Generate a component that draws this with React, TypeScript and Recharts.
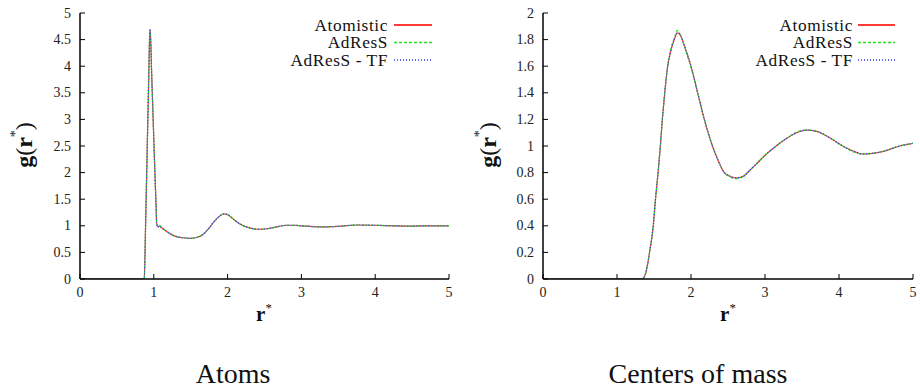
import React from 'react';
import { LineChart, Line, XAxis, YAxis } from 'recharts';

const seriesNames = ['Atomistic', 'AdResS', 'AdResS - TF'];
const seriesKeys = ['atomistic', 'adress', 'adressTF'];
const seriesColors = ['#ff3a3a', '#22e022', '#3434ff'];
const seriesDash = ['', '3 2', '1 2'];

const xTicks = [0, 1, 2, 3, 4, 5];
const atomsYTicks = [0, 0.5, 1, 1.5, 2, 2.5, 3, 3.5, 4, 4.5, 5];
const comYTicks = [0, 0.2, 0.4, 0.6, 0.8, 1, 1.2, 1.4, 1.6, 1.8, 2];

// Atoms panel
const atomsR = [0, 0.5, 0.86, 0.87, 0.89, 0.91, 0.93, 0.945, 0.95, 0.96, 0.97, 0.99, 1.01, 1.03, 1.04, 1.06, 1.08, 1.1, 1.15, 1.2, 1.25, 1.3, 1.4, 1.5, 1.6, 1.65, 1.7, 1.75, 1.8, 1.85, 1.9, 1.95, 2.0, 2.05, 2.1, 2.2, 2.3, 2.4, 2.5, 2.6, 2.7, 2.8, 2.9, 3.0, 3.25, 3.5, 3.75, 4.0, 4.25, 4.5, 4.75, 5.0];
const atomsAtomistic = [0, 0, 0, 0, 1.1, 2.4, 3.7, 4.6, 4.68, 4.4, 3.9, 3.05, 2.2, 1.4, 1.02, 0.98, 1.0, 0.97, 0.92, 0.87, 0.83, 0.8, 0.775, 0.765, 0.79, 0.82, 0.88, 0.96, 1.05, 1.13, 1.19, 1.225, 1.21, 1.16, 1.1, 1.01, 0.96, 0.935, 0.94, 0.96, 0.99, 1.01, 1.01, 1.0, 0.98, 0.99, 1.015, 1.01, 1.0, 0.995, 1.0, 1.0];
const atomsAdress = [0, 0, 0, 0, 1.1, 2.4, 3.7, 4.6, 4.66, 4.4, 3.9, 3.05, 2.2, 1.4, 1.02, 0.99, 1.01, 0.97, 0.92, 0.87, 0.83, 0.8, 0.775, 0.765, 0.79, 0.82, 0.88, 0.96, 1.05, 1.13, 1.19, 1.225, 1.21, 1.16, 1.1, 1.01, 0.96, 0.935, 0.94, 0.96, 0.99, 1.01, 1.01, 1.0, 0.98, 0.99, 1.015, 1.01, 1.0, 0.995, 1.0, 1.0];
const atomsAdressTF = [0, 0, 0, 0, 1.1, 2.4, 3.7, 4.62, 4.7, 4.4, 3.9, 3.05, 2.2, 1.4, 1.02, 0.98, 1.0, 0.97, 0.92, 0.87, 0.83, 0.8, 0.775, 0.765, 0.79, 0.82, 0.88, 0.96, 1.05, 1.13, 1.19, 1.225, 1.21, 1.16, 1.1, 1.01, 0.96, 0.935, 0.94, 0.96, 0.99, 1.01, 1.01, 1.0, 0.98, 0.99, 1.015, 1.01, 1.0, 0.995, 1.0, 1.0];

// Centers of mass panel
const comR = [0, 1.0, 1.34, 1.38, 1.41, 1.44, 1.49, 1.52, 1.555, 1.586, 1.613, 1.645, 1.685, 1.72, 1.78, 1.815, 1.86, 1.9, 1.95, 2.0, 2.09, 2.18, 2.29, 2.36, 2.45, 2.52, 2.61, 2.7, 2.8, 2.91, 3.0, 3.15, 3.3, 3.45, 3.56, 3.7, 3.85, 4.05, 4.2, 4.32, 4.45, 4.6, 4.82, 5.0];
const comAtomistic = [0, 0, 0, 0.03, 0.1, 0.2, 0.4, 0.6, 0.8, 1.0, 1.2, 1.4, 1.6, 1.7, 1.81, 1.85, 1.83, 1.77, 1.69, 1.6, 1.4, 1.2, 1.0, 0.9, 0.8, 0.775, 0.76, 0.77, 0.82, 0.88, 0.93, 1.0, 1.06, 1.105, 1.12, 1.11, 1.07, 1.0, 0.96, 0.94, 0.945, 0.96, 1.0, 1.02];
const comAdress = [0, 0, 0, 0.03, 0.1, 0.2, 0.4, 0.6, 0.8, 1.0, 1.2, 1.4, 1.6, 1.71, 1.82, 1.87, 1.83, 1.77, 1.68, 1.59, 1.4, 1.2, 1.0, 0.9, 0.8, 0.77, 0.755, 0.77, 0.82, 0.88, 0.93, 1.0, 1.06, 1.11, 1.12, 1.11, 1.07, 1.0, 0.955, 0.94, 0.945, 0.96, 1.0, 1.02];
const comAdressTF = [0, 0, 0, 0.03, 0.1, 0.2, 0.4, 0.6, 0.8, 1.0, 1.2, 1.4, 1.6, 1.7, 1.81, 1.85, 1.83, 1.77, 1.69, 1.6, 1.4, 1.2, 1.0, 0.9, 0.8, 0.775, 0.76, 0.77, 0.82, 0.88, 0.93, 1.0, 1.06, 1.105, 1.12, 1.11, 1.07, 1.0, 0.96, 0.94, 0.945, 0.96, 1.0, 1.02];

const buildRows = (r: number[], a: number[], b: number[], c: number[]) =>
  r.map((x, i) => ({ r: x, atomistic: a[i], adress: b[i], adressTF: c[i] }));

const atomsData = buildRows(atomsR, atomsAtomistic, atomsAdress, atomsAdressTF);
const comData = buildRows(comR, comAtomistic, comAdress, comAdressTF);

const FONT = 'Liberation Serif';
const TICK_LEN = 5;
const TICK_FS = 14;

const BottomTick = (props: any) => {
  const { x, y, payload } = props;
  return (
    <g>
      <line x1={x} x2={x} y1={y} y2={y - TICK_LEN} stroke="#000" strokeWidth={1} />
      <text x={x} y={y + 17.5} textAnchor="middle" fontFamily={FONT} fontSize={TICK_FS} fill="#222">
        {String(payload.value)}
      </text>
    </g>
  );
};
const TopTick = (props: any) => {
  const { x, y } = props;
  return <line x1={x} x2={x} y1={y} y2={y + TICK_LEN} stroke="#000" strokeWidth={1} />;
};
const LeftTick = (props: any) => {
  const { x, y, payload } = props;
  return (
    <g>
      <line x1={x} x2={x + TICK_LEN} y1={y} y2={y} stroke="#000" strokeWidth={1} />
      <text x={x - 9} y={y + 4.5} textAnchor="end" fontFamily={FONT} fontSize={TICK_FS} fill="#222">
        {String(payload.value)}
      </text>
    </g>
  );
};
const RightTick = (props: any) => {
  const { x, y } = props;
  return <line x1={x} x2={x - TICK_LEN} y1={y} y2={y} stroke="#000" strokeWidth={1} />;
};

type PanelProps = {
  left: number;
  data: any[];
  yTicks: number[];
  yMax: number;
  yAxisWidth: number;
  rightMargin: number;
};

const Panel = ({ left, data, yTicks, yMax, yAxisWidth, rightMargin }: PanelProps) => (
  <div style={{ position: 'absolute', left, top: 0 }}>
    <LineChart width={460} height={300} data={data} margin={{ top: 13, right: rightMargin, bottom: 0, left: 0 }}>
      <XAxis
        dataKey="r"
        type="number"
        domain={[0, 5]}
        ticks={xTicks}
        allowDataOverflow
        height={21}
        tickSize={0}
        tickMargin={0}
        tickLine={false}
        axisLine={{ stroke: '#000', strokeWidth: 1.5 }}
        tick={<BottomTick />}
        interval={0}
      />
      <XAxis
        xAxisId="top"
        orientation="top"
        dataKey="r"
        type="number"
        domain={[0, 5]}
        ticks={xTicks}
        allowDataOverflow
        height={0}
        tickSize={0}
        tickMargin={0}
        tickLine={false}
        axisLine={{ stroke: '#000', strokeWidth: 1.5 }}
        tick={<TopTick />}
        interval={0}
      />
      <YAxis
        type="number"
        domain={[0, yMax]}
        ticks={yTicks}
        allowDataOverflow
        width={yAxisWidth}
        tickSize={0}
        tickMargin={0}
        tickLine={false}
        axisLine={{ stroke: '#000', strokeWidth: 1.5 }}
        tick={<LeftTick />}
        interval={0}
      />
      <YAxis
        yAxisId="right"
        orientation="right"
        type="number"
        domain={[0, yMax]}
        ticks={yTicks}
        allowDataOverflow
        width={0}
        tickSize={0}
        tickMargin={0}
        tickLine={false}
        axisLine={{ stroke: '#000', strokeWidth: 1.5 }}
        tick={<RightTick />}
        interval={0}
      />
      {seriesKeys.map((k, i) => (
        <Line
          key={k}
          dataKey={k}
          name={seriesNames[i]}
          type="monotone"
          stroke={seriesColors[i]}
          strokeWidth={1.2}
          strokeDasharray={seriesDash[i] || undefined}
          dot={false}
          isAnimationActive={false}
        />
      ))}
    </LineChart>
  </div>
);

const LegendBlock = ({ textRight, lineStart, lineEnd }: { textRight: number; lineStart: number; lineEnd: number }) => (
  <g>
    {seriesNames.map((n, i) => {
      const cy = 25 + i * 17.5;
      return (
        <g key={n}>
          <text
            x={textRight}
            y={cy + 5.5}
            textAnchor="end"
            fontFamily={FONT}
            fontSize={17.3}
            letterSpacing={0.6}
            fill="#111"
          >
            {n}
          </text>
          <line
            x1={lineStart}
            x2={lineEnd}
            y1={cy}
            y2={cy}
            stroke={seriesColors[i]}
            strokeWidth={i === 0 ? 2 : 1.5}
            strokeDasharray={seriesDash[i] || undefined}
          />
        </g>
      );
    })}
  </g>
);

const YLabel = ({ cx, cy }: { cx: number; cy: number }) => (
  <text
    x={cx}
    y={cy}
    transform={`rotate(-90 ${cx} ${cy})`}
    textAnchor="middle"
    dominantBaseline="central"
    fontFamily={FONT}
    fontSize={24}
    fill="#111"
  >
    <tspan fontWeight="bold">g</tspan>
    <tspan>(</tspan>
    <tspan fontWeight="bold">r</tspan>
    <tspan fontSize={14} dy={-9}>*</tspan>
    <tspan dy={9}>)</tspan>
  </text>
);

const XLabel = ({ cx }: { cx: number }) => (
  <text x={cx} y={321} textAnchor="middle" fontFamily={FONT} fontSize={21} fill="#111">
    <tspan fontWeight="bold">r</tspan>
    <tspan fontSize={13} dy={-9}>*</tspan>
  </text>
);

export default function App() {
  return (
    <div style={{ position: 'fixed', left: 0, top: 0, width: 920, height: 392, background: '#fff' }}>
      <Panel left={0} data={atomsData} yTicks={atomsYTicks} yMax={5} yAxisWidth={80} rightMargin={11} />
      <Panel left={460} data={comData} yTicks={comYTicks} yMax={2} yAxisWidth={83} rightMargin={7} />
      <svg
        width={920}
        height={392}
        style={{ position: 'absolute', left: 0, top: 0, pointerEvents: 'none' }}
      >
        <LegendBlock textRight={388} lineStart={394} lineEnd={432} />
        <LegendBlock textRight={853} lineStart={858} lineEnd={895} />
        <YLabel cx={24} cy={145} />
        <YLabel cx={488} cy={145} />
        <XLabel cx={264} />
        <XLabel cx={728} />
        <text x={233} y={383} textAnchor="middle" fontFamily={FONT} fontSize={28} fill="#111">
          Atoms
        </text>
        <text x={698} y={383} textAnchor="middle" fontFamily={FONT} fontSize={28} fill="#111">
          Centers of mass
        </text>
      </svg>
    </div>
  );
}
